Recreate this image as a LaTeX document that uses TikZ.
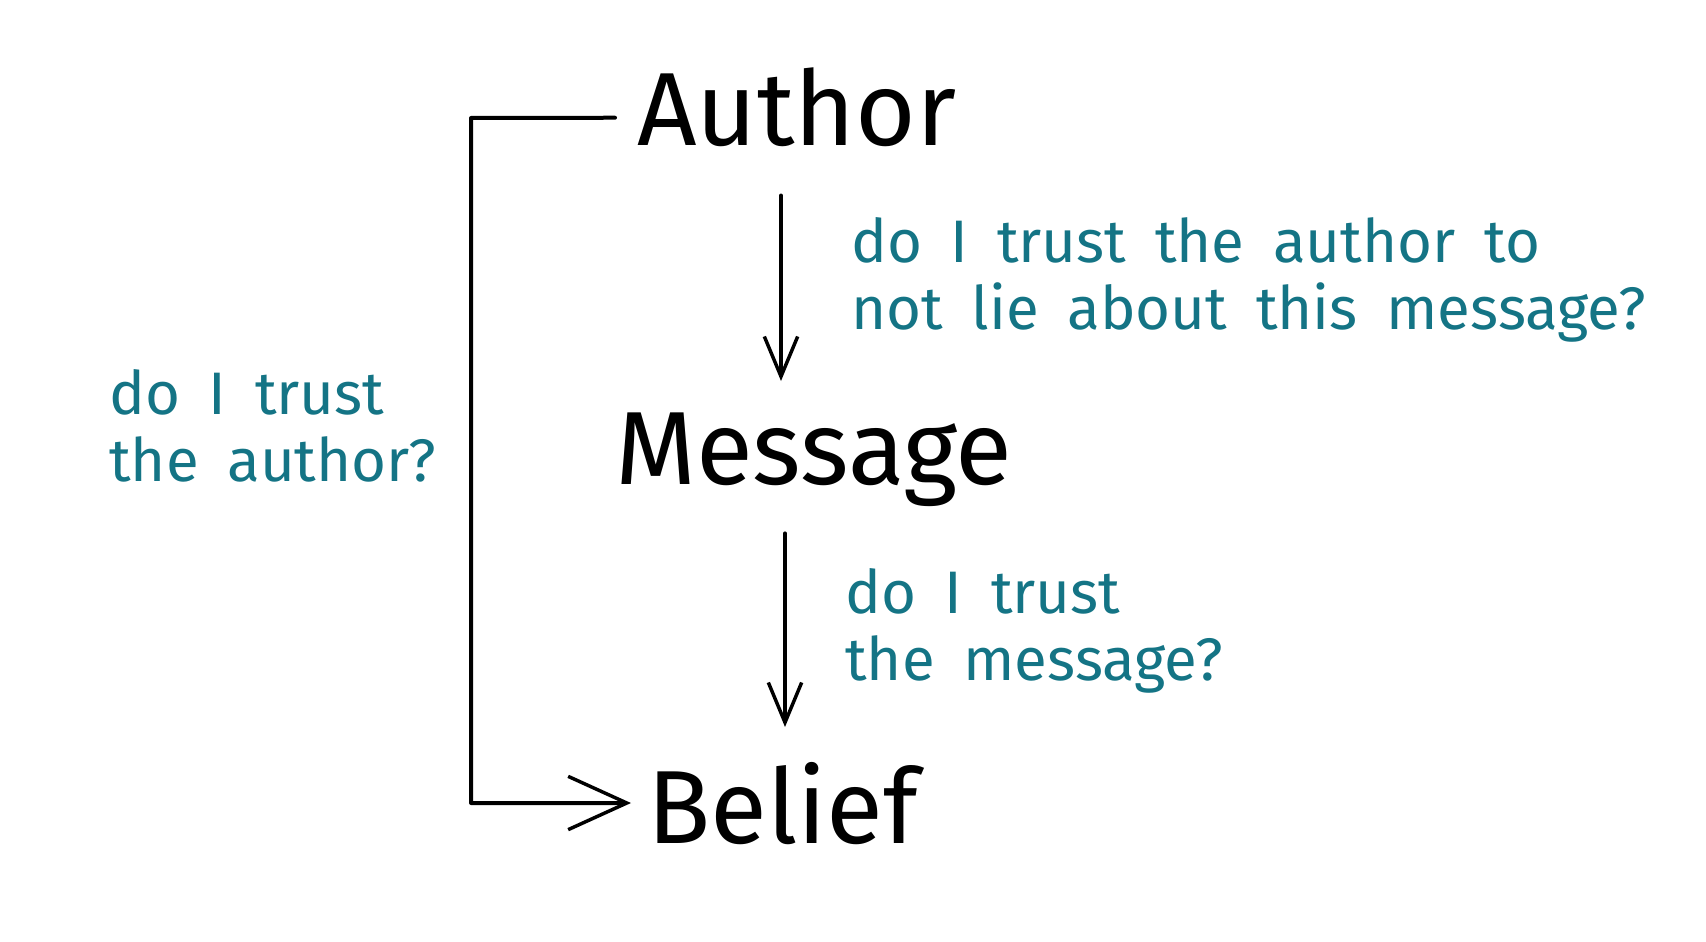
\documentclass[tikz,border=0pt]{standalone}
\usepackage{fontspec}
\setmainfont{Fira Sans}
\newfontfamily\qfont[WordSpace=1.8]{Fira Sans}
\usetikzlibrary{arrows.meta}
\definecolor{qteal}{RGB}{20,116,133}
\tikzset{
  big/.style={inner sep=0pt, anchor=base west, font=\fontsize{78}{94}\selectfont},
  question/.style={inner sep=0pt, anchor=base west, text=qteal, align=left,
    font=\qfont\fontsize{45}{50}\selectfont},
  conn/.style={line width=3pt, line cap=round, line join=round},
  arr/.style={conn, -{Straight Barb[length=44pt,width=40pt,line width=2.6pt]}},
  varr/.style={conn, -{Straight Barb[length=30pt,width=25pt,line width=2.6pt]}}
}
\begin{document}
\begin{tikzpicture}[x=0.75pt,y=-0.75pt]
\useasboundingbox (0,0) rectangle (1706,942);
\node[big] (author) at (637,145) {Author};
\node[big] (message) at (615,484) {Message};
\node[big] (belief) at (647,843) {Belief};
\node[question] (q1) at (851,329) {do I trust the author to\\not lie about this message?};
\node[question] (q2) at (109,481) {do I trust\\the author?};
\node[question] (q3) at (845,680) {do I trust\\the message?};
\coordinate (tl) at (471,118);
\coordinate (bl) at (471,803);
\draw[arr] ([shift={(-22,11)}]author.west) -- (tl) -- (bl) -- ([xshift=-12]belief.west |- bl);
\draw[varr] (author.south -| 781,0) ++(0,49) coordinate (a1s) -- (a1s |- 0,381);
\draw[varr] (message.south -| 785,0) ++(0,27) coordinate (a2s) -- (a2s |- 0,727);
\end{tikzpicture}
\end{document}
